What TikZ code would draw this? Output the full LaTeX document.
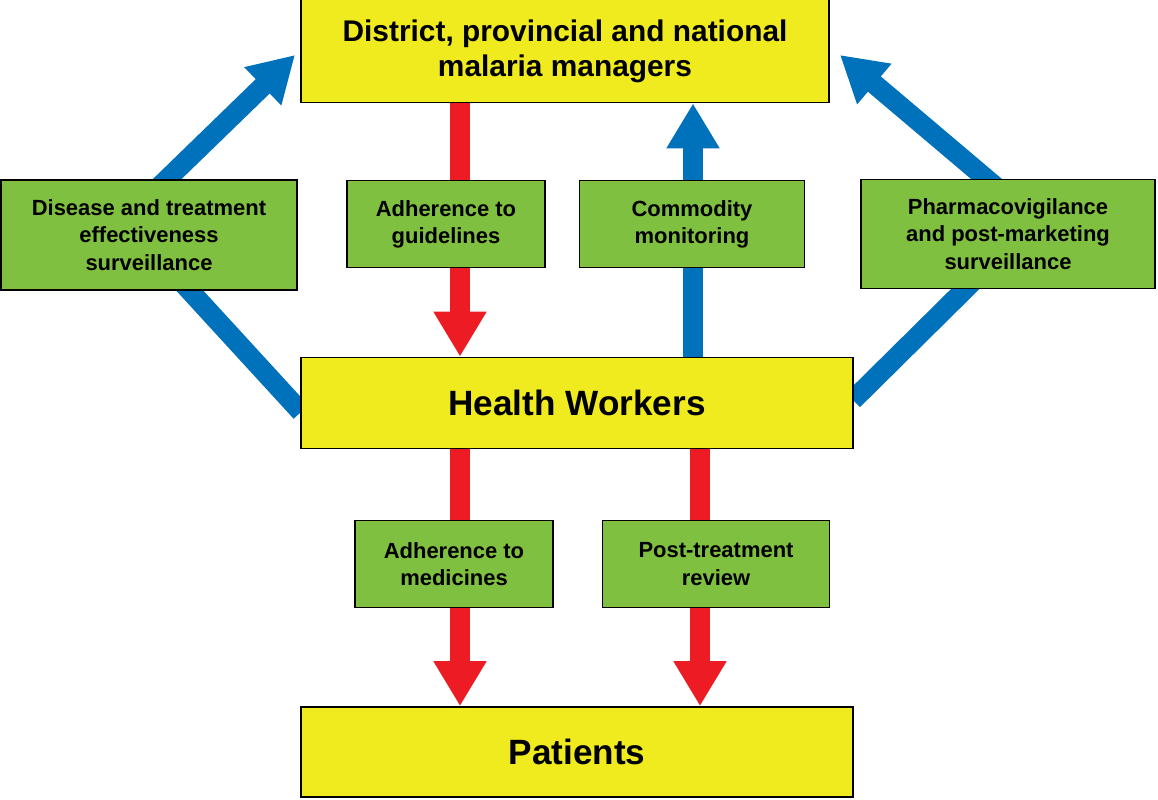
\documentclass[tikz,border=0pt]{standalone}
\usepackage{fontspec}
\setmainfont{Liberation Sans}
\usetikzlibrary{positioning,arrows.meta,backgrounds}
\definecolor{boxyel}{RGB}{240,235,30}
\definecolor{boxgrn}{RGB}{128,192,64}
\definecolor{arred}{RGB}{237,28,36}
\definecolor{arblue}{RGB}{0,114,188}
\begin{document}
\begin{tikzpicture}[x=0.02cm,y=-0.02cm,
    yel/.style = {draw, line width=1pt, fill=boxyel, align=center, font=\bfseries, inner sep=0pt},
    grn/.style = {draw, line width=0.8pt, fill=boxgrn, align=center, font=\fontsize{12.5}{15.5}\selectfont\bfseries, inner sep=0pt, minimum height=1.74cm},
    fat/.style = {line width=0.4cm, -{Triangle[width=1cm,length=0.9cm]}}]
    \useasboundingbox (0,0) rectangle (1158,800);
    \node[yel, minimum width=10.56cm, minimum height=2.06cm, font=\fontsize{17}{20}\selectfont\bfseries] (top) at (565,51) {District, provincial and national\\malaria managers};
    \node[yel, minimum width=11.04cm, minimum height=1.82cm, font=\fontsize{20}{24}\selectfont\bfseries] (hw) at (577,403) {Health Workers};
    \node[yel, minimum width=11.04cm, minimum height=1.80cm, font=\fontsize{20}{24}\selectfont\bfseries] (pat) at (577,752) {Patients};
    \node[grn, minimum width=5.92cm, minimum height=2.2cm] (dis) at (149,235) {Disease and treatment\\effectiveness\\surveillance};
    \node[grn, minimum width=3.96cm] (guide) at (446,224) {Adherence to\\guidelines};
    \node[grn, minimum width=4.5cm] (comm) at (692,224) {Commodity\\monitoring};
    \node[grn, minimum width=5.88cm, minimum height=2.18cm] (pharm) at (1008,234) {Pharmacovigilance\\and post-marketing\\surveillance};
    \node[grn, minimum width=3.96cm] (med) at (454,564) {Adherence to\\medicines};
    \node[grn, minimum width=4.54cm] (post) at (716,564) {Post-treatment\\review};
    % arrow columns and hidden corners
    \coordinate (xa) at (460,0);
    \coordinate (xb) at (693,0);
    \coordinate (xc) at (700,0);
    \coordinate (cl) at (125,220);
    \coordinate (cr) at (1035,220);
    \coordinate (tl) at (295,55);
    \coordinate (tr) at (840,55);
    \coordinate (hl) at (301,412);
    \coordinate (hr) at (853,400);
    \begin{pgfonlayer}{background}
        \draw[fat, arred] (top.south -| xa) -- (hw.north -| xa);
        \draw[fat, arblue] (hw.north -| xb) -- (top.south -| xb);
        \draw[fat, arred] (hw.south -| xa) -- (pat.north -| xa);
        \draw[fat, arred] (hw.south -| xc) -- (pat.north -| xc);
        \draw[fat, arblue] (hl) -- (cl) -- (tl);
        \draw[fat, arblue] (hr) -- (cr) -- (tr);
    \end{pgfonlayer}
\end{tikzpicture}
\end{document}
